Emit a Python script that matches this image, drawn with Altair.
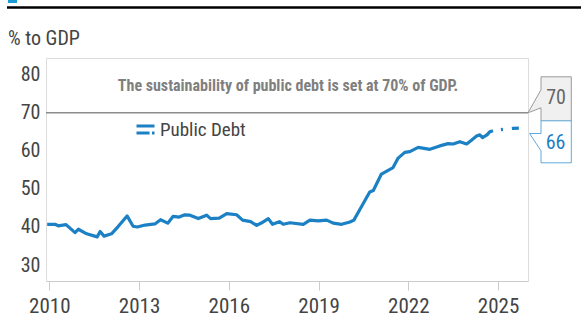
import altair as alt
import pandas as pd

# ---------------- data ----------------
hist_year = [2009.93, 2010.19, 2010.30, 2010.56, 2010.86, 2010.97, 2011.25, 2011.60, 2011.70, 2011.83,
             2012.08, 2012.30, 2012.60, 2012.80, 2012.94, 2013.20, 2013.53, 2013.72, 2013.96, 2014.14,
             2014.34, 2014.53, 2014.70, 2014.98, 2015.26, 2015.39, 2015.68, 2015.93, 2016.26, 2016.46,
             2016.73, 2016.93, 2017.10, 2017.32, 2017.46, 2017.69, 2017.82, 2018.04, 2018.49, 2018.71,
             2018.99, 2019.27, 2019.49, 2019.77, 2020.05, 2020.18, 2020.38, 2020.71, 2020.83, 2021.10,
             2021.49, 2021.66, 2021.88, 2022.05, 2022.33, 2022.72, 2023.05, 2023.33, 2023.50, 2023.72,
             2023.95, 2024.11, 2024.28, 2024.39, 2024.48, 2024.63, 2024.72, 2024.83]
hist_val = [40.7, 40.7, 40.3, 40.6, 38.5, 39.4, 38.2, 37.4, 38.8, 37.6,
            38.2, 40.1, 42.9, 40.2, 40.0, 40.5, 40.8, 41.9, 41.0, 42.8,
            42.6, 43.2, 43.1, 42.2, 43.1, 42.2, 42.3, 43.5, 43.2, 41.8,
            41.4, 40.4, 41.1, 42.2, 40.7, 41.4, 40.7, 41.1, 40.7, 41.8,
            41.6, 41.8, 41.0, 40.7, 41.3, 41.8, 44.6, 49.2, 49.6, 53.9,
            55.6, 58.1, 59.6, 59.8, 60.9, 60.4, 61.3, 61.9, 61.8, 62.4,
            61.8, 62.8, 63.9, 64.2, 63.5, 64.2, 65.0, 65.3]
fc_year = [2024.83, 2025.00, 2025.25, 2025.50, 2025.72]
fc_val = [65.3, 65.5, 65.7, 65.9, 66.0]

x_ticks = [2010, 2013, 2016, 2019, 2022, 2025]
y_ticks = [30, 40, 50, 60, 70, 80]
threshold = [70]
series_name = "Public Debt"
note = "The sustainability of public debt is set at 70% of GDP."
unit_title = "% to GDP"
x_end = 2026.0

# ---------------- style ----------------
FONT = "Liberation Sans Narrow, Arial Narrow, Roboto Condensed, Liberation Sans, sans-serif"
BLUE = "#1b80c4"
TXT = "#444444"

hist = pd.DataFrame({"year": hist_year, "value": hist_val, "series": series_name})
fc = pd.DataFrame({"year": fc_year, "value": fc_val, "series": series_name})
thr = pd.DataFrame({"value": threshold, "year": [x_end] * len(threshold)})
last = pd.DataFrame({"value": [round(fc_val[-1])], "year": [x_end]})

xscale = alt.Scale(domain=[2009.89, x_end], nice=False, zero=False)
yscale = alt.Scale(domain=[25.8, 84.4], nice=False, zero=False)

xaxis = alt.Axis(values=x_ticks, format="d", title=None, grid=False, domainColor="#cccccc",
                 tickColor="#cccccc", tickSize=9, labelFontSize=21, labelColor=TXT, labelFont=FONT,
                 labelPadding=5, labelFlush=False)
yaxis = alt.Axis(values=y_ticks, title=None, grid=False, ticks=False, domainColor="#dddddd",
                 labelFontSize=20, labelColor=TXT, labelFont=FONT, labelPadding=6)

X = alt.X("year:Q", scale=xscale, axis=xaxis)
Y = alt.Y("value:Q", scale=yscale, axis=yaxis)

legend_symbol = "M-1,-0.4H1M-1,0.4H0.45M0.72,0.4H1"

rule = alt.Chart(thr).mark_rule(color="#8c8c8c", strokeWidth=1.5).encode(y=alt.Y("value:Q", scale=yscale))

hist_line = alt.Chart(hist).mark_line(strokeWidth=3.2, strokeJoin="round").encode(
    x=X, y=Y,
    color=alt.Color("series:N", scale=alt.Scale(range=[BLUE]),
                    legend=alt.Legend(orient="none", legendX=89, legendY=61, title=None,
                                      symbolType=legend_symbol, symbolSize=324, symbolStrokeWidth=3,
                                      labelFontSize=19, labelFont=FONT, labelColor=TXT, labelOffset=4))
)

fc_line = alt.Chart(fc).mark_line(strokeWidth=3.2, strokeDash=[7, 8, 2, 9], strokeDashOffset=7).encode(
    x=X, y=Y, color=alt.Color("series:N", legend=None)
)

gray_box = alt.Chart(thr).mark_point(
    shape="M0,0L13,-23L13,-36L43.3,-36L43.3,8.3L13,8.3L13,-5Z", size=4, filled=True,
    fill="#f0f0f0", stroke="#9a9a9a", strokeWidth=1, opacity=1
).encode(x=alt.X("year:Q", scale=xscale), y=alt.Y("value:Q", scale=yscale))

gray_txt = alt.Chart(thr).mark_text(dx=28, dy=-14.4, fontSize=20, font=FONT, color="#666666",
                                    align="center", baseline="middle").encode(
    x=alt.X("year:Q", scale=xscale), y=alt.Y("value:Q", scale=yscale), text=alt.Text("value:Q", format="d"))

blue_box = alt.Chart(last).mark_point(
    shape="M1.6,5.5L13,5.5L13,-7.2L43.3,-7.2L43.3,34.8L13,34.8L13,22.8Z", size=4, filled=True,
    fill="#ffffff", stroke="#5fa9d9", strokeWidth=1, opacity=1
).encode(x=alt.X("year:Q", scale=xscale), y=alt.Y("value:Q", scale=yscale))

blue_txt = alt.Chart(last).mark_text(dx=27.5, dy=14.5, fontSize=20, font=FONT, color=BLUE,
                                     align="center", baseline="middle").encode(
    x=alt.X("year:Q", scale=xscale), y=alt.Y("value:Q", scale=yscale), text=alt.Text("value:Q", format="d"))

note_txt = alt.Chart(pd.DataFrame({"t": [note]})).mark_text(
    fontSize=16, fontWeight="bold", font=FONT, color="#7f7f7f", align="center", baseline="middle"
).encode(x=alt.value(242), y=alt.value(28), text="t:N")

title_txt = alt.Chart(pd.DataFrame({"t": [unit_title]})).mark_text(
    fontSize=20, font=FONT, color=TXT, align="left", baseline="alphabetic"
).encode(x=alt.value(-38), y=alt.value(-13), text="t:N")

top_rule = alt.Chart(pd.DataFrame({"a": [0]})).mark_rule(color="#000000", strokeWidth=2.5).encode(
    x=alt.value(-39), x2=alt.value(535), y=alt.value(-50.5))

top_mark = alt.Chart(pd.DataFrame({"a": [0]})).mark_rect(color="#1b9ad6").encode(
    x=alt.value(-38), x2=alt.value(-29), y=alt.value(-58), y2=alt.value(-55))

chart = alt.layer(
    rule, hist_line, fc_line, gray_box, gray_txt, blue_box, blue_txt, note_txt, title_txt, top_rule, top_mark
).properties(
    width=482, height=223,
    padding={"left": 46, "top": 58, "right": 53, "bottom": 54},
    autosize=alt.AutoSizeParams(type="none"),
).configure_view(stroke=None).configure(font=FONT)

chart.save("out.html", embed_options={"renderer": "svg", "actions": False})
